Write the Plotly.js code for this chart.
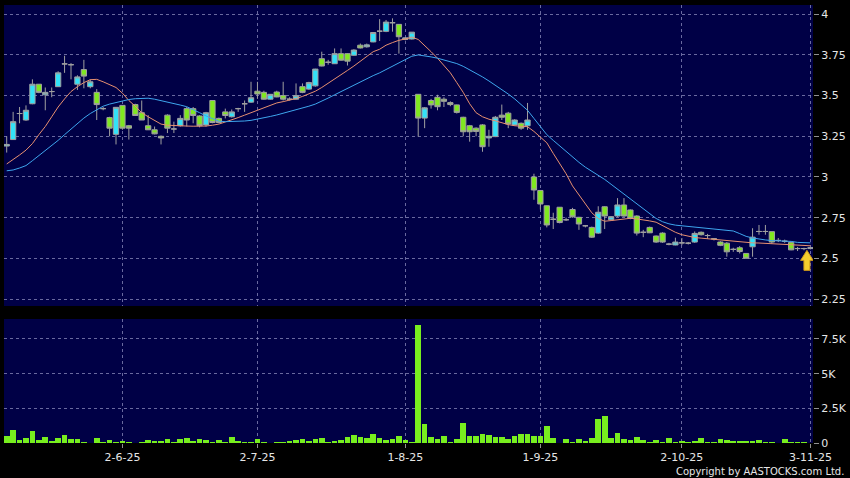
<!DOCTYPE html>
<html><head><meta charset="utf-8">
<script src="https://cdn.plot.ly/plotly-3.0.1.min.js"></script>
<style>html,body{margin:0;padding:0;background:#000;}#chart{width:850px;height:478px;}</style>
</head><body><div id="chart"></div>
<script>
const openP = [3.19,3.23,3.39,3.35,3.45,3.57,3.505,3.525,3.555,3.695,
3.69,3.57,3.66,3.555,3.52,3.42,3.365,3.262,3.44,3.315,
3.445,3.395,3.315,3.29,3.25,3.38,3.295,3.315,3.42,3.42,
3.375,3.32,3.47,3.36,3.40,3.37,3.42,3.45,3.46,3.527,
3.52,3.478,3.522,3.50,3.478,3.478,3.555,3.54,3.56,3.727,
3.705,3.696,3.758,3.758,3.748,3.81,3.80,3.83,3.896,3.895,
3.948,3.938,3.845,3.848,3.508,3.362,3.47,3.49,3.478,3.457,
3.443,3.367,3.315,3.30,3.32,3.24,3.248,3.38,3.392,3.32,
3.33,3.315,3.0,2.917,2.823,2.74,2.814,2.737,2.80,2.752,
2.70,2.69,2.655,2.817,2.737,2.76,2.828,2.797,2.76,2.66,
2.69,2.637,2.655,2.587,2.582,2.595,2.593,2.60,2.66,2.64,
2.62,2.60,2.593,2.555,2.565,2.53,2.571,2.665,2.665,2.664,
2.61,2.605,2.598,2.56,2.56,2.56];
const highP = [3.25,3.40,3.43,3.44,3.60,3.57,3.55,3.55,3.65,3.745,
3.70,3.625,3.72,3.60,3.54,3.43,3.37,3.43,3.44,3.32,
3.45,3.47,3.38,3.31,3.255,3.385,3.34,3.38,3.43,3.43,
3.38,3.40,3.47,3.365,3.42,3.415,3.425,3.47,3.585,3.585,
3.53,3.51,3.53,3.585,3.49,3.575,3.575,3.585,3.665,3.77,
3.72,3.79,3.79,3.76,3.785,3.82,3.82,3.89,3.97,3.965,
3.975,3.94,3.86,3.89,3.51,3.43,3.48,3.505,3.49,3.465,
3.445,3.37,3.32,3.305,3.325,3.29,3.375,3.445,3.40,3.355,
3.335,3.455,3.02,2.92,2.825,2.78,2.815,2.75,2.81,2.755,
2.705,2.695,2.82,2.82,2.76,2.87,2.87,2.80,2.765,2.675,
2.695,2.64,2.66,2.595,2.627,2.625,2.60,2.665,2.665,2.65,
2.625,2.605,2.60,2.565,2.575,2.53,2.685,2.705,2.705,2.665,
2.625,2.615,2.60,2.57,2.565,2.57];
const lowP = [3.15,3.23,3.33,3.345,3.447,3.515,3.41,3.49,3.555,3.64,
3.60,3.535,3.545,3.545,3.35,3.41,3.25,3.20,3.29,3.23,
3.375,3.35,3.29,3.262,3.20,3.27,3.27,3.31,3.31,3.33,
3.305,3.31,3.33,3.33,3.36,3.365,3.40,3.40,3.455,3.48,
3.475,3.475,3.49,3.47,3.47,3.475,3.515,3.535,3.555,3.68,
3.69,3.695,3.715,3.685,3.745,3.79,3.795,3.828,3.836,3.89,
3.893,3.758,3.84,3.845,3.248,3.30,3.42,3.41,3.43,3.435,
3.39,3.25,3.217,3.25,3.155,3.186,3.245,3.35,3.30,3.315,
3.29,3.29,2.86,2.80,2.69,2.68,2.715,2.73,2.75,2.675,
2.69,2.625,2.65,2.68,2.735,2.755,2.755,2.74,2.64,2.63,
2.655,2.595,2.595,2.58,2.58,2.58,2.585,2.595,2.64,2.62,
2.61,2.575,2.51,2.54,2.53,2.50,2.51,2.645,2.645,2.59,
2.60,2.595,2.55,2.545,2.55,2.555];
const closeP = [3.20,3.34,3.39,3.41,3.57,3.52,3.52,3.525,3.64,3.695,
3.69,3.615,3.62,3.585,3.445,3.42,3.30,3.428,3.30,3.30,
3.378,3.35,3.29,3.265,3.24,3.30,3.295,3.36,3.35,3.378,
3.315,3.395,3.335,3.335,3.378,3.40,3.42,3.45,3.487,3.51,
3.478,3.508,3.492,3.478,3.478,3.50,3.52,3.58,3.663,3.682,
3.705,3.758,3.718,3.712,3.78,3.793,3.812,3.888,3.896,3.952,
3.948,3.862,3.855,3.89,3.362,3.425,3.443,3.432,3.465,3.445,
3.397,3.278,3.278,3.28,3.186,3.25,3.367,3.367,3.326,3.35,
3.30,3.35,2.92,2.834,2.705,2.74,2.72,2.737,2.755,2.711,
2.70,2.63,2.783,2.76,2.756,2.828,2.76,2.746,2.655,2.66,
2.657,2.60,2.60,2.587,2.60,2.595,2.593,2.653,2.645,2.64,
2.62,2.58,2.54,2.555,2.542,2.50,2.63,2.665,2.665,2.60,
2.61,2.605,2.552,2.56,2.56,2.565];
const volume = [530,960,240,360,870,190,410,170,360,550,
290,290,70,20,380,50,240,70,170,70,
20,70,220,170,170,260,100,290,380,170,
310,240,70,220,100,430,120,50,100,290,
100,20,70,100,140,240,290,120,310,380,
70,170,240,460,600,460,340,630,360,190,
290,480,190,70,8530,1370,410,290,480,100,
310,1420,500,500,630,550,430,430,290,480,
630,650,530,480,1230,380,20,310,50,310,
120,380,1730,1970,380,720,310,220,460,240,
70,240,70,380,100,140,100,140,380,50,
70,310,240,120,120,170,170,190,100,100,
20,290,50,70,70,30];
const ma10 = [3.08,3.105,3.135,3.165,3.205,3.26,3.31,3.37,3.43,3.48,
3.525,3.555,3.58,3.598,3.60,3.585,3.565,3.55,3.515,3.47,
3.435,3.395,3.37,3.345,3.325,3.318,3.315,3.314,3.313,3.312,
3.311,3.313,3.318,3.325,3.338,3.35,3.365,3.38,3.395,3.41,
3.425,3.44,3.455,3.463,3.472,3.482,3.495,3.51,3.527,3.55,
3.575,3.60,3.628,3.655,3.682,3.71,3.74,3.77,3.785,3.81,
3.826,3.84,3.848,3.86,3.845,3.81,3.77,3.73,3.685,3.64,
3.58,3.52,3.45,3.395,3.37,3.355,3.345,3.333,3.322,3.315,
3.31,3.309,3.28,3.245,3.21,3.145,3.085,3.02,2.945,2.89,
2.83,2.78,2.745,2.728,2.732,2.738,2.742,2.746,2.742,2.737,
2.73,2.722,2.70,2.68,2.66,2.645,2.635,2.628,2.624,2.62,
2.616,2.612,2.608,2.603,2.60,2.597,2.595,2.594,2.592,2.591,
2.589,2.586,2.584,2.581,2.579,2.577];
const ma20 = [3.038,3.043,3.055,3.07,3.10,3.13,3.16,3.19,3.225,3.26,
3.295,3.33,3.362,3.39,3.415,3.435,3.448,3.458,3.468,3.476,
3.481,3.484,3.484,3.478,3.47,3.462,3.452,3.442,3.432,3.415,
3.395,3.375,3.357,3.343,3.34,3.34,3.341,3.344,3.348,3.355,
3.363,3.372,3.381,3.392,3.40,3.41,3.423,3.435,3.448,3.465,
3.485,3.505,3.525,3.545,3.567,3.585,3.605,3.623,3.64,3.66,
3.68,3.70,3.72,3.742,3.75,3.745,3.738,3.73,3.72,3.708,
3.697,3.68,3.66,3.638,3.615,3.59,3.565,3.54,3.51,3.48,
3.445,3.41,3.36,3.31,3.26,3.225,3.19,3.155,3.12,3.09,
3.06,3.035,3.012,2.985,2.955,2.925,2.895,2.865,2.835,2.805,
2.775,2.745,2.725,2.712,2.704,2.70,2.695,2.692,2.688,2.685,
2.68,2.675,2.67,2.668,2.652,2.635,2.625,2.618,2.613,2.609,
2.608,2.608,2.604,2.598,2.596,2.595];
const tickIdx = [18,39,62,83,105,125];
const tickLabels = ['2-6-25','2-7-25','1-8-25','1-9-25','2-10-25','3-11-25'];
const priceTicks = [2.25,2.5,2.75,3,3.25,3.5,3.75,4];
const priceTickText = ['2.25','2.5','2.75','3','3.25','3.5','3.75','4'];
const volTicks = [0,2500,5000,7500];
const volTickText = ['0','2.5K','5K','7.5K'];

const idx = openP.map((_, i) => i);
const last = idx.length - 1;
const grid = 'rgba(140,140,190,0.75)';
const tickFont = {family: 'DejaVu Sans, Verdana, sans-serif', size: 11, color: '#e6e6e6'};

const traces = [
  {type: 'candlestick', x: idx, open: openP, high: highP, low: lowP, close: closeP,
   xaxis: 'x', yaxis: 'y', whiskerwidth: 0, hoverinfo: 'none',
   increasing: {line: {color: '#a0a0a0', width: 1}, fillcolor: '#33e2f8'},
   decreasing: {line: {color: '#a0a0a0', width: 1}, fillcolor: '#80e820'}},
  {type: 'scatter', mode: 'lines', x: idx, y: ma10, xaxis: 'x', yaxis: 'y',
   line: {color: '#e89070', width: 1}, hoverinfo: 'none'},
  {type: 'scatter', mode: 'lines', x: idx, y: ma20, xaxis: 'x', yaxis: 'y',
   line: {color: '#3ea6ee', width: 1}, hoverinfo: 'none'},
  {type: 'bar', x: idx, y: volume, xaxis: 'x2', yaxis: 'y2', width: 0.88,
   marker: {color: '#78ee1e', line: {width: 0}}, hoverinfo: 'none'}
];

const layout = {
  width: 850, height: 478,
  margin: {l: 4, r: 37, t: 5, b: 35},
  paper_bgcolor: '#000000', plot_bgcolor: '#000046',
  showlegend: false, boxgap: 0.18, boxgroupgap: 0, bargap: 0,
  xaxis: {domain: [0, 1], anchor: 'y', range: [-0.42, 125.4], rangeslider: {visible: false},
    tickvals: tickIdx, ticktext: tickLabels, showticklabels: false, ticks: '',
    showgrid: true, gridcolor: grid, griddash: 'dot', gridwidth: 1, zeroline: false, showline: false},
  xaxis2: {domain: [0, 1], anchor: 'y2', matches: 'x', range: [-0.42, 125.4],
    tickvals: tickIdx, ticktext: tickLabels, ticks: 'outside', ticklen: 4, tickcolor: '#909090',
    tickfont: tickFont, showgrid: true, gridcolor: grid, griddash: 'dot', zeroline: false, showline: false},
  yaxis: {domain: [0.3128, 1], anchor: 'x', side: 'right', range: [2.207, 4.057],
    tickvals: priceTicks, ticktext: priceTickText, ticks: 'outside', ticklen: 5, tickcolor: '#909090',
    tickfont: tickFont, showgrid: true, gridcolor: grid, griddash: 'dot', zeroline: false, showline: false},
  yaxis2: {domain: [0, 0.2831], anchor: 'x2', side: 'right', range: [0, 8940],
    tickvals: volTicks, ticktext: volTickText, ticks: 'outside', ticklen: 5, tickcolor: '#909090',
    tickfont: tickFont, showgrid: true, gridcolor: grid, griddash: 'dot', zeroline: false, showline: false},
  shapes: [
    {type: 'path', xref: 'x', yref: 'y', xsizemode: 'pixel', ysizemode: 'pixel',
     xanchor: last, yanchor: lowP[last],
     path: 'M -3.5,-1 L 2.8,-11 L -0.5,-11 L -0.5,-21 L -6.5,-21 L -6.5,-11 L -9.8,-11 Z',
     fillcolor: '#f5cc2e', line: {color: '#d09a1a', width: 1}, layer: 'above'}
  ],
  annotations: [
    {text: 'Copyright by AASTOCKS.com Ltd.', xref: 'paper', yref: 'paper', x: 1.0408, y: -0.0655,
     xanchor: 'right', yanchor: 'middle', showarrow: false,
     font: {family: 'DejaVu Sans, Verdana, sans-serif', size: 10, color: '#e6e6e6'}}
  ]
};

Plotly.newPlot('chart', traces, layout, {staticPlot: true, displayModeBar: false});
</script>
</body></html>
